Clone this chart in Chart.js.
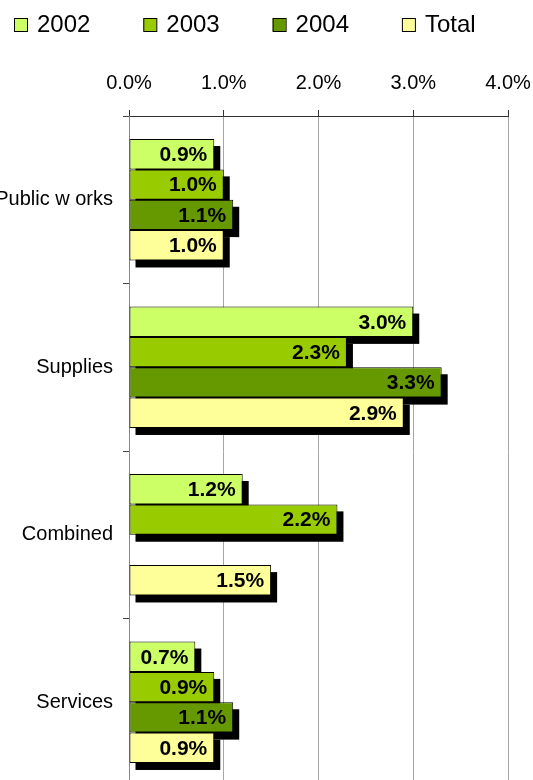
<!DOCTYPE html>
<html>
<head>
<meta charset="utf-8">
<script src="https://cdn.jsdelivr.net/npm/chart.js@4/dist/chart.umd.min.js"></script>
<style>
  html, body { margin: 0; padding: 0; background: #fff; overflow: hidden; }
  #wrap { position: relative; width: 533px; height: 780px; overflow: hidden; }
  canvas { display: block; }
</style>
</head>
<body>
<div id="wrap"><canvas id="chart" width="533" height="790"></canvas></div>
<script>
// Category labels and series
const categories = ['Public w orks', 'Supplies', 'Combined', 'Services'];
const seriesNames = ['2002', '2003', '2004', 'Total'];
const values2002 = [0.9, 3.0, 1.2, 0.7];
const values2003 = [1.0, 2.3, 2.2, 0.9];
const values2004 = [1.1, 3.3, null, 1.1];
const valuesTotal = [1.0, 2.9, 1.5, 0.9];
const seriesColors = ['#CCFF66', '#99CC00', '#669900', '#FFFF99'];
const axisMin = 0, axisMax = 4, axisStep = 1;

const FONT = "'Liberation Sans', Arial, Helvetica, sans-serif";
Chart.defaults.font.family = FONT;
Chart.defaults.color = '#000';

const seriesValues = [values2002, values2003, values2004, valuesTotal];

// Black drop shadow behind every bar
const barShadow = {
  id: 'barShadow',
  beforeDatasetsDraw(chart) {
    const ctx = chart.ctx;
    ctx.save();
    ctx.fillStyle = '#000';
    chart.data.datasets.forEach((ds, i) => {
      const meta = chart.getDatasetMeta(i);
      meta.data.forEach((bar, j) => {
        if (ds.data[j] == null) return;
        const p = bar.getProps(['x', 'y', 'base', 'height'], true);
        const left = Math.min(p.base, p.x);
        ctx.fillRect(left + 6, p.y - p.height / 2 + 7, Math.abs(p.x - p.base), p.height);
      });
    });
    ctx.restore();
  }
};

// Percentage labels inside the bar ends
const barLabels = {
  id: 'barLabels',
  afterDatasetsDraw(chart) {
    const ctx = chart.ctx;
    ctx.save();
    ctx.font = 'bold 21px ' + FONT;
    ctx.fillStyle = '#000';
    ctx.textAlign = 'right';
    ctx.textBaseline = 'middle';
    chart.data.datasets.forEach((ds, i) => {
      const meta = chart.getDatasetMeta(i);
      meta.data.forEach((bar, j) => {
        const v = ds.data[j];
        if (v == null) return;
        const p = bar.getProps(['x', 'y'], true);
        ctx.fillText(v.toFixed(1) + '%', p.x - 7, p.y + 1);
      });
    });
    ctx.restore();
  }
};

// Evenly spaced legend row across the top
const topLegend = {
  id: 'topLegend',
  afterDraw(chart) {
    const ctx = chart.ctx;
    ctx.save();
    ctx.font = '24px ' + FONT;
    ctx.textBaseline = 'middle';
    ctx.textAlign = 'left';
    chart.data.datasets.forEach((ds, i) => {
      const bx = 14 + i * 129.3;
      const cy = 25;
      ctx.fillStyle = ds.backgroundColor;
      ctx.fillRect(bx, cy - 7, 13, 13);
      ctx.strokeStyle = '#000';
      ctx.lineWidth = 1;
      ctx.strokeRect(bx + 0.5, cy - 6.5, 13, 13);
      ctx.fillStyle = '#000';
      ctx.fillText(ds.label, bx + 23, cy);
    });
    ctx.restore();
  }
};

new Chart(document.getElementById('chart'), {
  type: 'bar',
  data: {
    labels: categories,
    datasets: seriesNames.map((name, i) => ({
      label: name,
      data: seriesValues[i],
      backgroundColor: seriesColors[i],
      borderColor: '#000',
      borderWidth: 1,
      borderSkipped: false,
      barPercentage: 1.0,
      categoryPercentage: 0.725
    }))
  },
  options: {
    indexAxis: 'y',
    responsive: false,
    animation: false,
    devicePixelRatio: 1,
    layout: { padding: { top: 56, right: 25, bottom: 4, left: 0 } },
    plugins: {
      legend: { display: false },
      tooltip: { enabled: false }
    },
    scales: {
      x: {
        position: 'top',
        min: axisMin,
        max: axisMax,
        afterFit(scale) { scale.paddingLeft = 0; scale.paddingRight = 0; },
        ticks: {
          stepSize: axisStep,
          padding: 15,
          font: { size: 20 },
          color: '#000',
          callback: v => Number(v).toFixed(1) + '%'
        },
        grid: {
          color: '#a6a6a6',
          tickColor: '#333',
          tickLength: 6,
          lineWidth: 1
        },
        border: { color: '#333', width: 1 }
      },
      y: {
        afterFit(scale) { scale.width = 129; scale.paddingTop = 0; scale.paddingBottom = 0; },
        ticks: {
          padding: 10,
          font: { size: 20 },
          color: '#000'
        },
        grid: {
          drawOnChartArea: false,
          offset: true,
          tickLength: 6,
          tickColor: '#444'
        },
        border: { color: '#888', width: 1 }
      }
    }
  },
  plugins: [barShadow, barLabels, topLegend]
});
</script>
</body>
</html>
